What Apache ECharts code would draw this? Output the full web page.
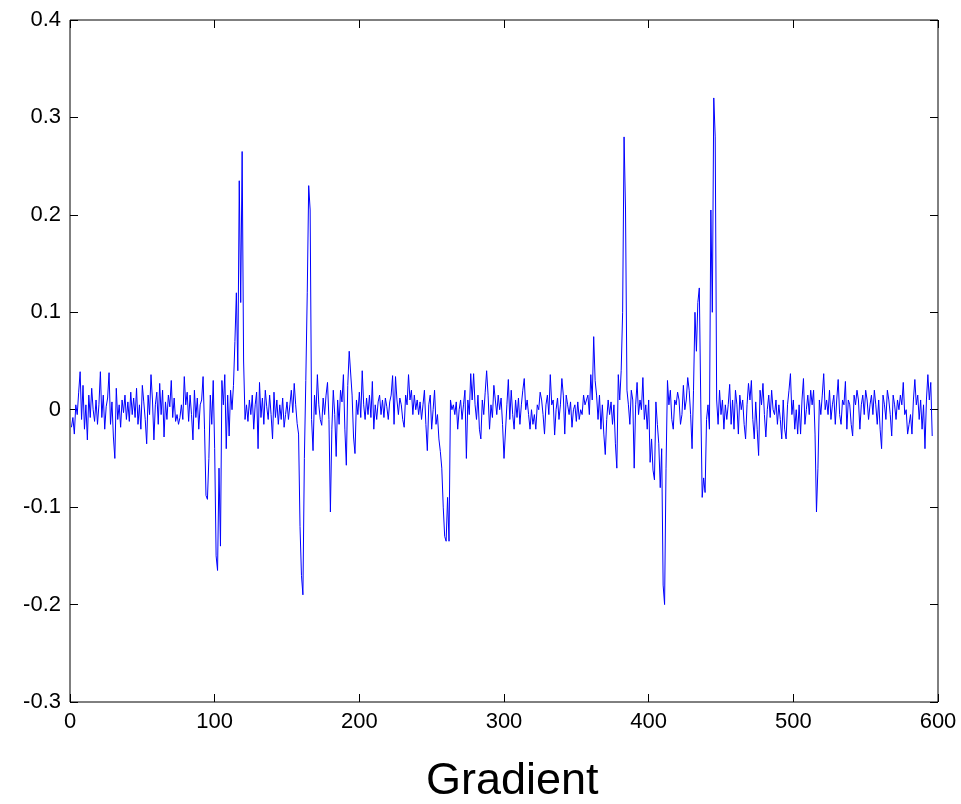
<!DOCTYPE html>
<html>
<head>
<meta charset="utf-8">
<script src="https://cdn.jsdelivr.net/npm/echarts@6/dist/echarts.min.js"></script>
<style>
    html, body { margin: 0; padding: 0; background: #fff; }
    #main { width: 961px; height: 804px; }
</style>
</head>
<body>
<div id="main"></div>
<script>
// gradient values, in thousandths, x = 1, 2, 3 ...
var grad1 = [
    -18, -8, -25, 5, -5, 18, 39, -10, 25, -20,
    5, -31, 15, -8, 22, 0, -12, 10, -15, 5,
    39, -8, 15, -20, 3, 12, 38, -15, 8, -28,
    -50, 22, -10, 5, -18, 10, -3, 15, -10, 8,
    -12, 18, -5, 12, -8, 22, -15, 5, -20, 25,
    8, -10, -35, 15, -5, 36, 10, -31, 5, 18,
    -15, 27, -5, 20, -28, 8, -10, 15, 3, 30,
    -8, 12, -12, -5, -15, -8, 5, -10, 34, 5,
    18, -12, 15, -5, -31, 20, -8, 12, -20, 5,
    10, 34, -20, -88, -92, -50, 15, -15, 30, -40,
]
var grad2 = [
    -150, -165, -60, -140, 30, 5, 36, -40, 15, -27,
    20, 0, 25, 70, 120, 40, 235, 110, 265, 50,
    -10, 5, -12, 10, -5, 15, -20, 5, 18, -40,
    28, -8, 12, -15, 20, 3, -10, 15, -5, -30,
    18, -8, 10, -15, 5, -10, 12, -18, -5, 8,
    -10, 5, 20, -3, 27, 5, -14, -25, -120, -170,
    -190, -50, 30, 120, 230, 205, -10, -42, 15, -5,
    36, 5, -10, -16, 12, -5, 15, 28, -10, -105,
    -20, 20, -5, -48, 10, -15, 20, 8, 36, -20,
    -57, 25, 60, 62, 15, -28, -45, 10, -5, 18,
]
var grad3 = [
    -8, 40, 5, -10, 12, -5, 15, -8, 29, -20,
    5, -10, 8, 15, -5, 10, -8, 12, 3, -10,
    8, 15, 35, -15, 34, 10, -5, 12, 5, -10,
    -18, 15, 5, 36, 10, 20, -5, 15, 0, 10,
    -5, 8, -10, 5, 20, -15, -42, 5, 15, -20,
    0, 20, -15, -5, -30, -43, -60, -100, -130, -135,
    -90, -135, 10, 0, 5, -5, 8, -20, 0, 10,
    -10, 5, 20, -50, 10, -5, 37, 10, 37, 5,
    -10, 15, -20, -30, 10, -5, 18, 40, 15, -20,
    5, -8, 25, 10, -5, 15, 0, 12, -15, -50,
]
var grad4 = [
    -48, 5, 31, -10, 20, -5, -20, 10, -8, 12,
    -15, 5, 20, 32, 0, 10, -5, -20, 0, -15,
    -5, -20, 5, 0, 18, 10, -5, -25, 5, 15,
    -5, 36, 5, 10, -26, 0, 12, -10, 5, 32,
    15, -25, 15, 5, -5, 8, -18, 0, 5, -12,
    8, -10, 0, -5, 15, 5, 10, 15, -5, 36,
    10, 75, 30, 15, -10, 15, -20, 5, -25, -46,
    -10, 10, -5, 8, -15, 5, -35, -60, 36, 10,
    40, 100, 280, 205, 20, 5, -15, 20, 10, -60,
    5, 28, -5, 10, 0, 33, -10, 5, -20, 10,
]
var grad5 = [
    -54, -30, -62, -72, 8, -15, -35, -80, -40, -180,
    -200, -60, 30, 5, 20, -10, -20, 10, 5, 18,
    10, -15, -5, 25, 0, 10, 33, 20, -5, -40,
    20, 100, 60, 110, 125, 10, -90, -70, -85, -10,
    5, -20, 205, 100, 320, 280, 10, -15, 20, -5,
    10, -20, 5, -10, 5, 26, -15, 10, -20, 20,
    5, -25, 15, 0, 10, -15, -30, 5, 27, 10,
    30, -10, -30, 8, -20, -47, 20, 5, 27, -5,
    -28, 0, 15, -8, 20, 0, -5, 10, -15, 5,
    -10, -30, 10, -20, -30, 5, 20, 37, -5, 10,
]
var grad6 = [
    -20, 0, -25, 5, -25, 10, 32, -15, 0, 15,
    -5, 20, 5, 20, -25, -105, -60, 10, -5, 15,
    37, 0, 10, -5, 20, -10, 5, 15, -15, 10,
    31, -5, -15, 10, 5, 29, -20, 10, 5, -15,
    -27, 15, 5, 20, 10, -20, 5, 15, -5, 20,
    10, -10, 5, 15, -5, 20, 5, -15, 10, -20,
    -40, 15, 5, -10, 20, 10, -5, -27, 15, 5,
    -10, 10, 0, 15, 5, 28, -5, 0, -25, -15,
    -5, -25, 10, 31, 5, 15, -10, 10, -20, 5,
    -40, 10, 36, 10, 28, -27,
]

var xTicks = [0, 100, 200, 300, 400, 500, 600]
var yTicks = [-0.3, -0.2, -0.1, 0, 0.1, 0.2, 0.3, 0.4]
var chartTitle = 'Gradient'

var font = 'Liberation Sans, Arial, Helvetica, sans-serif'

var buildData = () => {
    var all = grad1.concat(grad2, grad3, grad4, grad5, grad6)
    var data = []
    for (var i = 0; i < all.length; i++) {
        data.push([i + 1, all[i] / 1000])
    }
    return data
}

var tickStyle = { show: true, inside: true, length: 8, lineStyle: { color: '#000', width: 1 } }

var xAxisOf = (position, showLabel) => {
    return {
        type: 'value',
        position: position,
        min: xTicks[0],
        max: xTicks[xTicks.length - 1],
        interval: xTicks[1] - xTicks[0],
        axisLine: { show: false, onZero: false },
        axisTick: tickStyle,
        splitLine: { show: false },
        axisLabel: {
            show: showLabel,
            color: '#000',
            fontFamily: font,
            fontSize: 22,
            margin: 9,
        },
    }
}

var yAxisOf = (position, showLabel) => {
    return {
        type: 'value',
        position: position,
        min: yTicks[0],
        max: yTicks[yTicks.length - 1],
        interval: 0.1,
        axisLine: { show: false, onZero: false },
        axisTick: tickStyle,
        splitLine: { show: false },
        axisLabel: {
            show: showLabel,
            color: '#000',
            fontFamily: font,
            fontSize: 22,
            margin: 9,
            formatter: (v) => {
                var s = Number(v.toFixed(1))
                return String(s)
            },
        },
    }
}

var showChart = () => {
    var element = document.querySelector('#main')
    var myChart = echarts.init(element, null, { renderer: 'canvas' })
    var option = {
        animation: false,
        backgroundColor: '#fff',
        grid: {
            left: 70,
            right: 23,
            top: 20,
            bottom: 102,
            show: true,
            borderColor: '#000',
            borderWidth: 1,
            backgroundColor: 'transparent',
        },
        xAxis: [xAxisOf('bottom', true), xAxisOf('top', false)],
        yAxis: [yAxisOf('left', true), yAxisOf('right', false)],
        graphic: [
            {
                type: 'text',
                left: 426,
                top: 759,
                style: {
                    text: chartTitle,
                    fill: '#000',
                    font: '45px ' + font,
                },
            },
        ],
        series: [
            {
                type: 'line',
                data: buildData(),
                showSymbol: false,
                symbol: 'none',
                lineStyle: { color: '#0000ff', width: 1 },
                z: 1,
            },
        ],
    }
    myChart.setOption(option)
}

var __main = () => {
    showChart()
}
__main()
</script>
</body>
</html>
